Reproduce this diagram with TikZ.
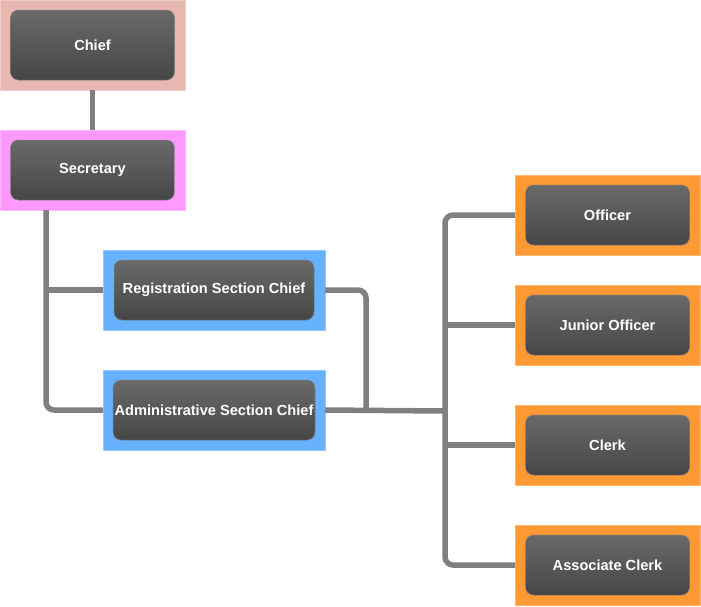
\documentclass[tikz,border=0pt]{standalone}
\usepackage{fontspec}
\setmainfont{Liberation Sans}
\definecolor{cchief}{HTML}{E6B8B0}
\definecolor{csec}{HTML}{FF99FF}
\definecolor{cblue}{HTML}{66B2FF}
\definecolor{corange}{HTML}{FF9933}
\definecolor{ctop}{HTML}{6A6A6A}
\definecolor{cbot}{HTML}{464646}
\definecolor{cline}{HTML}{808080}
\tikzset{
  outerbox/.style={minimum width=185pt, minimum height=80pt, inner sep=0pt, outer sep=0pt, fill=#1, draw=#1!70!white, line width=0.6pt},
  innerbox/.style={minimum width=164pt, minimum height=60pt, inner sep=0pt, rounded corners=8pt, top color=ctop, bottom color=cbot, draw=cbot!70!white, line width=0.5pt, text=white, font=\bfseries\fontsize{14.6}{17}\selectfont},
  conn/.style={draw=cline, line width=5.5pt, rounded corners=8pt}
}
\begin{document}
\begin{tikzpicture}[x=1pt, y=-1pt]
\useasboundingbox (0,0) rectangle (701,606);
% outer boxes
\node[outerbox=cchief, minimum height=90pt] (chief) at (92.5,45) {};
\node[outerbox=csec] (sec) at (92.5,170) {};
\node[outerbox=cblue, minimum width=222pt] (reg) at (214,290) {};
\node[outerbox=cblue, minimum width=222pt] (adm) at (214,410) {};
\node[outerbox=corange] (off) at (607.5,215) {};
\node[outerbox=corange] (jun) at (607.5,325) {};
\node[outerbox=corange] (clk) at (607.5,445) {};
\node[outerbox=corange] (asc) at (607.5,565) {};
% inner boxes
\node[innerbox, minimum height=70pt] (chiefi) at (chief) {Chief};
\node[innerbox] (seci) at (sec) {Secretary};
\node[innerbox, minimum width=200pt] (regi) at (reg) {Registration Section Chief};
\node[innerbox, minimum width=202pt] (admi) at (adm) {Administrative Section Chief};
\node[innerbox] (offi) at (off) {Officer};
\node[innerbox] (juni) at (jun) {Junior Officer};
\node[innerbox] (clki) at (clk) {Clerk};
\node[innerbox] (asci) at (asc) {Associate Clerk};
% connectors
\coordinate (s1) at (46,210);
\coordinate (ra) at (366,290);
\coordinate (rb) at (366,410);
\coordinate (m) at (445,411);
\draw[conn, rounded corners=0pt] (chief.south) -- (sec.north);
\draw[conn] (sec.south -| s1) |- (adm.west);
\draw[conn, rounded corners=0pt] (s1 |- reg.west) -- (reg.west);
\draw[conn] (reg.east) -- (ra) -- (rb);
\draw[conn, rounded corners=0pt] (adm.east) -- (m);
\draw[conn] (off.west) -| (m) |- (asc.west);
\draw[conn, rounded corners=0pt] (m |- jun.west) -- (jun.west);
\draw[conn, rounded corners=0pt] (m |- clk.west) -- (clk.west);
\end{tikzpicture}
\end{document}
